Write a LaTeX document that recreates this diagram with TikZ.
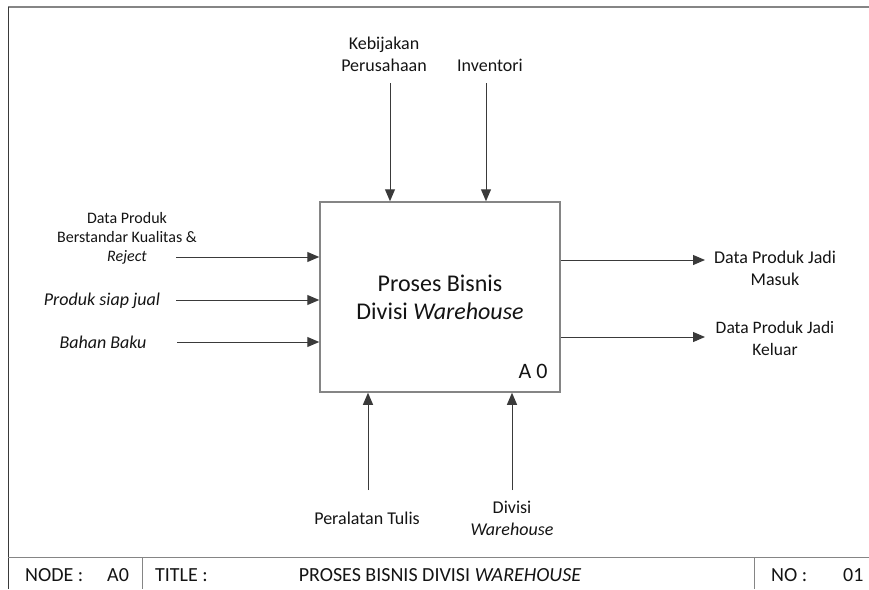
\documentclass[tikz,border=0pt]{standalone}
\usepackage{fontspec}
\setmainfont{Carlito}
\usetikzlibrary{arrows.meta}
\definecolor{flowgray}{HTML}{3A3A3A}
\definecolor{framegray}{HTML}{858585}
\definecolor{inkgray}{HTML}{141414}
\tikzset{
  flow/.style={draw=flowgray, line width=1pt, -{Triangle[length=12pt,width=10pt]}},
  tag/.style={align=center, text=inkgray, inner sep=0pt, font=\fontsize{18}{22}\selectfont},
  smalltag/.style={tag, font=\fontsize{16}{19}\selectfont},
  cell/.style={anchor=west, text=inkgray, inner sep=0pt, font=\fontsize{20}{24}\selectfont},
  process/.style={draw=framegray, line width=1.5pt, fill=white, minimum width=240pt,
    minimum height=190pt, align=center, text=inkgray, font=\fontsize{24}{28}\selectfont}
}
\begin{document}
\begin{tikzpicture}[x=1pt,y=-1pt]
  \useasboundingbox (0,0) rectangle (869,589);
  % Sheet frame and title block
  \draw[framegray, line width=2.5pt] (8,7) -- (869,7);
  \draw[flowgray, line width=0.8pt] (8,7) -- (8,589);
  \draw[framegray, line width=0.8pt] (8,557) -- (869,557);
  \draw[framegray, line width=0.8pt] (142,557) -- (142,589);
  \draw[framegray, line width=0.8pt] (754,557) -- (754,589);
  \node[cell] (nodeKey) at (25,575) {NODE :};
  \node[cell] (nodeVal) at (107,575) {A0};
  \node[cell] (titleKey) at (155,575) {TITLE :};
  \node[cell, anchor=center] (titleVal) at (440,575) {PROSES BISNIS DIVISI \textit{WAREHOUSE}};
  \node[cell] (noKey) at (771,575) {NO :};
  \node[cell] (noVal) at (843,575) {01};
  % Activity box
  \node[process] (proc) at (440,297) {Proses Bisnis\\Divisi \textit{Warehouse}};
  \node[tag, font=\fontsize{22}{26}\selectfont] (procId) at (533,371) {A 0};
  % Controls
  \node[tag] (kebijakan) at (384,54) {Kebijakan\\Perusahaan};
  \node[tag] (inventori) at (490,65) {Inventori};
  \coordinate (kebijakanEnd) at (390,83);
  \coordinate (inventoriEnd) at (486,83);
  \draw[flow] (kebijakanEnd) -- (kebijakanEnd |- proc.north);
  \draw[flow] (inventoriEnd) -- (inventoriEnd |- proc.north);
  % Inputs
  \node[smalltag] (dataProduk) at (127,238) {Data Produk\\Berstandar Kualitas \&\\\textit{Reject}};
  \node[tag] (siapJual) at (102,301) {\textit{Produk siap jual}};
  \node[tag] (bahanBaku) at (103,342) {\textit{Bahan Baku}};
  \coordinate (dataProdukEnd) at (176,257);
  \coordinate (siapJualEnd) at (176,300);
  \coordinate (bahanBakuEnd) at (177,342);
  \foreach \src in {dataProdukEnd, siapJualEnd, bahanBakuEnd}
    \draw[flow] (\src) -- (\src -| proc.west);
  % Outputs
  \node[tag] (jadiMasuk) at (775,268) {Data Produk Jadi\\Masuk};
  \node[tag, font=\fontsize{17.5}{22}\selectfont] (jadiKeluar) at (775,338) {Data Produk Jadi\\Keluar};
  \coordinate (jadiMasukEnd) at (705,260);
  \coordinate (jadiKeluarEnd) at (705,337);
  \draw[flow] (proc.east |- jadiMasukEnd) -- (jadiMasukEnd);
  \draw[flow] (proc.east |- jadiKeluarEnd) -- (jadiKeluarEnd);
  % Mechanisms
  \node[tag] (peralatan) at (367,518) {Peralatan Tulis};
  \node[tag] (divisi) at (512,518) {Divisi\\\textit{Warehouse}};
  \coordinate (peralatanEnd) at (368,490);
  \coordinate (divisiEnd) at (512,490);
  \draw[flow] (peralatanEnd) -- (peralatanEnd |- proc.south);
  \draw[flow] (divisiEnd) -- (divisiEnd |- proc.south);
\end{tikzpicture}
\end{document}
